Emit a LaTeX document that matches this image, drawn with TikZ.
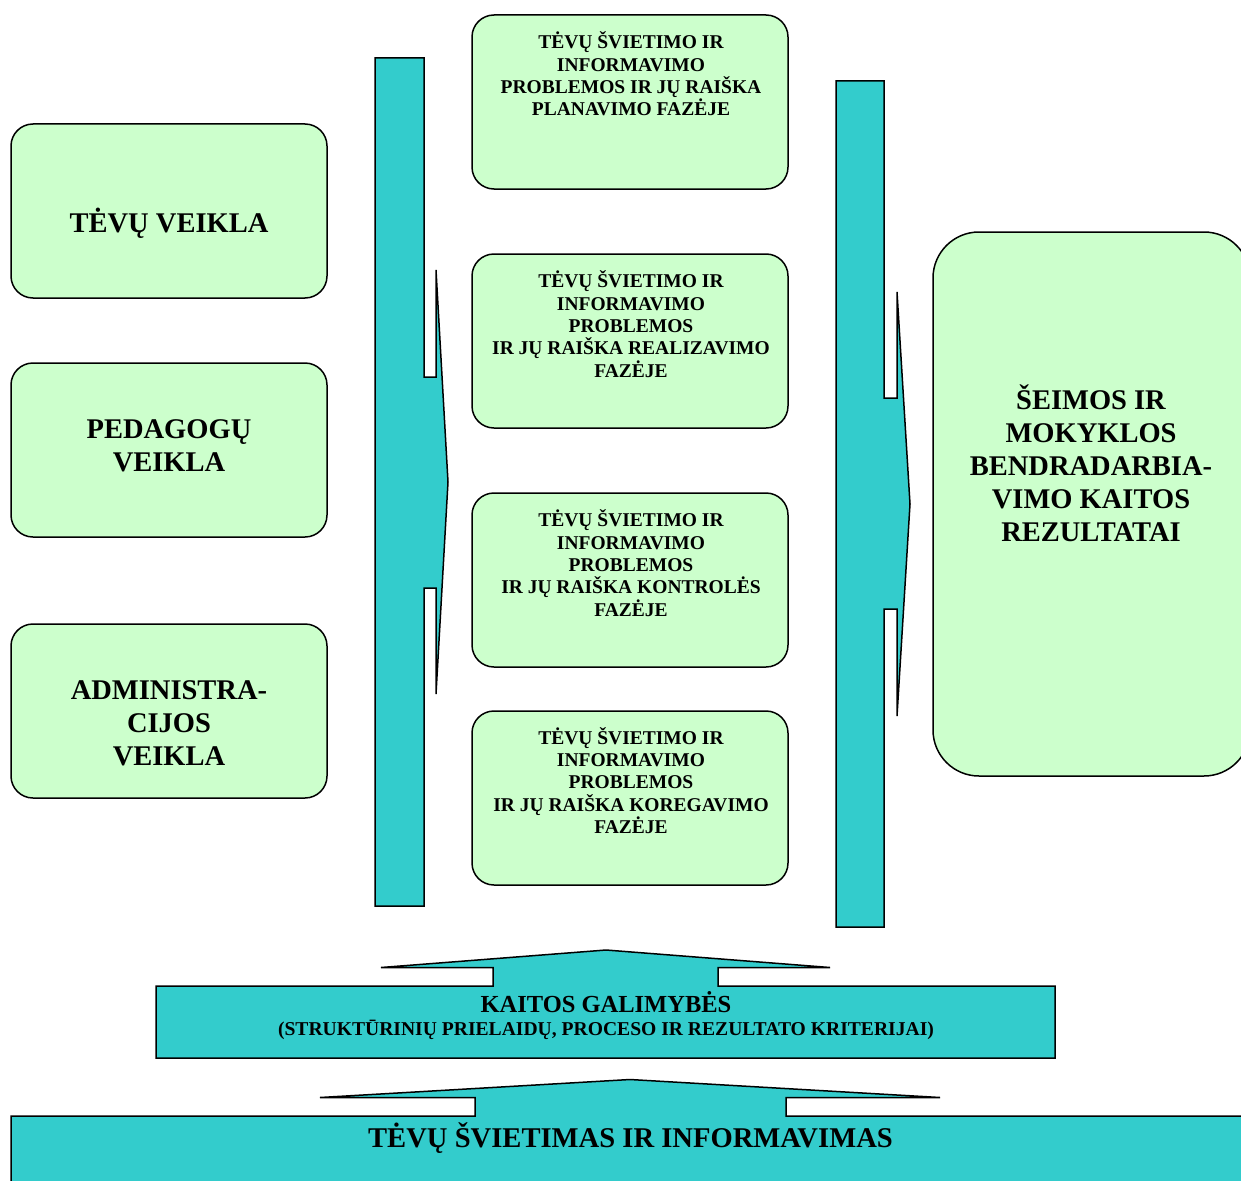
\documentclass[tikz,border=0pt]{standalone}
\usepackage{fontspec}
\setmainfont{Liberation Serif}
\definecolor{barteal}{HTML}{33CCCC}
\definecolor{boxgreen}{HTML}{CCFFCC}
\begin{document}
\begin{tikzpicture}[x=1pt,y=-1pt,line join=miter,
  gbox/.style={draw=black,line width=1.5pt,fill=boxgreen,rounded corners=22pt,
    minimum width=316pt,minimum height=174pt,inner sep=0pt},
  bigbox/.style={draw=black,line width=1.5pt,fill=boxgreen,rounded corners=46pt,
    minimum width=317pt,minimum height=544pt,inner sep=0pt},
  bar/.style={draw=black,line width=1.5pt,fill=barteal},
  bigtext/.style={font=\fontsize{28.5}{33}\selectfont\bfseries,align=center,inner sep=0pt,
    execute at begin node=\strut,execute at end node=\strut},
  midtext/.style={font=\fontsize{19.5}{22.4}\selectfont\bfseries,align=center,inner sep=0pt,
    execute at begin node=\strut,execute at end node=\strut},
  onetext/.style={inner sep=0pt,anchor=base}]
\useasboundingbox (0,0) rectangle (1241,1180);

% vertical block arrows
\draw[bar] (375,58) -- (424,58) -- (424,377) -- (436,377) -- (436,270) -- (448,482)
  -- (436,694) -- (436,588) -- (424,588) -- (424,906) -- (375,906) -- cycle;
\draw[bar] (836,81) -- (884,81) -- (884,398) -- (897,398) -- (897,292) -- (910,504)
  -- (897,716) -- (897,609) -- (884,609) -- (884,927) -- (836,927) -- cycle;

% horizontal bars with upward arrows
\draw[bar] (156,986) -- (493,986) -- (493,967.5) -- (381,967.5) -- (606,950) -- (830,967.5)
  -- (718,967.5) -- (718,986) -- (1055,986) -- (1055,1058) -- (156,1058) -- cycle;
\draw[bar] (11,1116) -- (475,1116) -- (475,1097.5) -- (320,1097.5) -- (630,1079.5) -- (940,1097.5)
  -- (786,1097.5) -- (786,1116) -- (1270,1116) -- (1270,1210) -- (11,1210) -- cycle;

% left boxes
\node[gbox] (l1) at (169,211) {};
\node[gbox] (l2) at (169,450) {};
\node[gbox] (l3) at (169,711) {};
\node[onetext,font=\fontsize{28.5}{33}\selectfont\bfseries] (t1) at (169,232) {TĖVŲ VEIKLA};
\node[bigtext,anchor=north] (t2) at (169,419) {PEDAGOGŲ\\VEIKLA};
\node[bigtext,anchor=north] (t3) at (169,680) {ADMINISTRA-\\CIJOS\\VEIKLA};

% middle boxes
\node[gbox] (m1) at (630,102) {};
\node[gbox] (m2) at (630,341) {};
\node[gbox] (m3) at (630,580) {};
\node[gbox] (m4) at (630,798) {};
\node[midtext,anchor=north] (mt1) at (631,31.5)
  {TĖVŲ ŠVIETIMO IR\\INFORMAVIMO\\PROBLEMOS IR JŲ RAIŠKA\\PLANAVIMO FAZĖJE};
\node[midtext,anchor=north] (mt2) at (631,270.5)
  {TĖVŲ ŠVIETIMO IR\\INFORMAVIMO\\PROBLEMOS\\IR JŲ RAIŠKA REALIZAVIMO\\FAZĖJE};
\node[midtext,anchor=north] (mt3) at (631,509.5)
  {TĖVŲ ŠVIETIMO IR\\INFORMAVIMO\\PROBLEMOS\\IR JŲ RAIŠKA KONTROLĖS\\FAZĖJE};
\node[midtext,anchor=north] (mt4) at (631,727)
  {TĖVŲ ŠVIETIMO IR\\INFORMAVIMO\\PROBLEMOS\\IR JŲ RAIŠKA KOREGAVIMO\\FAZĖJE};

% right box
\node[bigbox] (r) at (1091.5,504) {};
\node[bigtext,anchor=north] (rt) at (1091,385)
  {ŠEIMOS IR\\MOKYKLOS\\BENDRADARBIA-\\VIMO KAITOS\\REZULTATAI};

% bottom texts
\node[onetext,font=\fontsize{24.5}{28}\selectfont\bfseries] (k1) at (606,1012) {KAITOS GALIMYBĖS};
\node[onetext,font=\fontsize{19.6}{22}\selectfont\bfseries] (k2) at (606,1035)
  {(STRUKTŪRINIŲ PRIELAIDŲ, PROCESO IR REZULTATO KRITERIJAI)};
\node[onetext,font=\fontsize{28.6}{33}\selectfont\bfseries] (b1) at (630.5,1147)
  {TĖVŲ ŠVIETIMAS IR INFORMAVIMAS};
\end{tikzpicture}
\end{document}
